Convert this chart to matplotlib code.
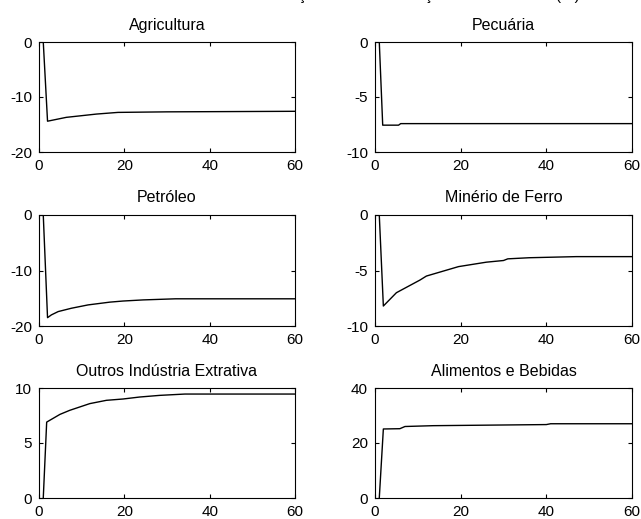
import matplotlib
matplotlib.use("Agg")
import matplotlib.pyplot as plt

plt.rcParams["font.family"] = ["Liberation Sans", "DejaVu Sans"]
plt.rcParams["font.size"] = 11
plt.rcParams["axes.unicode_minus"] = False

# titulos dos paineis
titles = ["Agricultura", "Pecuária", "Petróleo", "Minério de Ferro",
          "Outros Indústria Extrativa", "Alimentos e Bebidas"]

# valores (periodo, resposta)
agri_t = [1, 2, 6.4, 13.5, 18.5, 30, 60]
agri_y = [0, -14.4, -13.7, -13.1, -12.8, -12.7, -12.6]

pecu_t = [1, 1.8, 5.5, 6, 60]
pecu_y = [0, -7.56, -7.56, -7.42, -7.42]

petr_t = [1, 2, 2.9, 4.5, 7.6, 11.5, 16.6, 19.7, 24.4, 32, 60]
petr_y = [0, -18.5, -18.0, -17.4, -16.8, -16.2, -15.7, -15.5, -15.3, -15.1, -15.1]

mine_t = [1, 1.95, 5, 10.5, 12, 19.5, 26, 30, 31, 36, 47, 60]
mine_y = [0, -8.2, -7.0, -5.86, -5.5, -4.65, -4.25, -4.1, -3.95, -3.85, -3.75, -3.75]

outr_t = [1, 1.8, 4.9, 7.2, 11.9, 15.8, 19.7, 23.6, 28.3, 34.2, 60]
outr_y = [0, 6.9, 7.6, 7.97, 8.58, 8.88, 9.0, 9.18, 9.33, 9.45, 9.45]

alim_t = [1, 1.95, 5.8, 7, 13.6, 40, 41, 60]
alim_y = [0, 25.1, 25.2, 26.0, 26.3, 26.7, 27.0, 27.0]

series_t = [agri_t, pecu_t, petr_t, mine_t, outr_t, alim_t]
series_y = [agri_y, pecu_y, petr_y, mine_y, outr_y, alim_y]
ylims = [(-20, 0), (-10, 0), (-20, 0), (-10, 0), (0, 10), (0, 40)]
yticks = [[-20, -10, 0], [-10, -5, 0], [-20, -10, 0], [-10, -5, 0],
          [0, 5, 10], [0, 20, 40]]
xticks = [0, 20, 40, 60]

W, H = 641, 519
fig = plt.figure(figsize=(W / 100, H / 100), dpi=100)

# posicoes dos eixos em pixels (esq, topo, dir, base)
cols = [(39, 295), (375, 632)]
rows = [(42, 152), (215, 326), (388, 498)]

for i in range(6):
    x0, x1 = cols[i % 2]
    y0, y1 = rows[i // 2]
    ax = fig.add_axes([x0 / W, 1 - y1 / H, (x1 - x0) / W, (y1 - y0) / H])
    ax.plot(series_t[i], series_y[i], color="black", linewidth=1)
    ax.set_xlim(0, 60)
    ax.set_ylim(*ylims[i])
    ax.set_xticks(xticks)
    ax.set_yticks(yticks[i])
    ax.tick_params(direction="in", top=True, right=True, length=3, width=0.8)
    ax.tick_params(axis="y", pad=5)
    ax.tick_params(axis="x", pad=5)
    for s in ax.spines.values():
        s.set_linewidth(0.8)
    ax.set_title(titles[i], fontsize=11.5, pad=9)

# titulo geral, cortado no topo da figura
fig.text(0.134, 1.0, "Efeito Acumulado sobre a Variação Real da Produção nas Atividades (%)",
         ha="left", va="baseline", fontsize=11)

plt.savefig("out.png", dpi=100)
